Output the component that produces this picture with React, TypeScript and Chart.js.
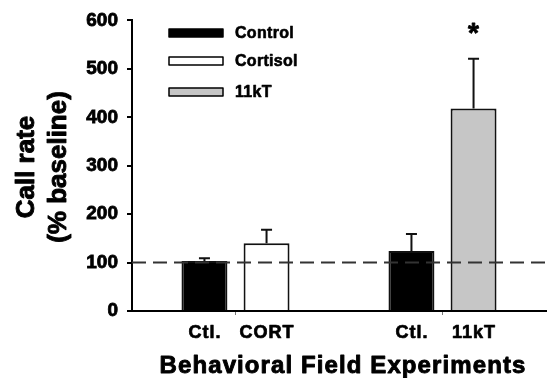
import React, { useEffect, useRef } from "react";
import { Chart, registerables } from "chart.js";

Chart.register(...registerables);

// ---- data ----
const categories = ["Cortisol experiment", "11kT experiment"];
const seriesNames = ["Control", "Cortisol", "11kT"];
const controlValues = [103, 124];
const controlErrors = [6, 35];
const cortisolValues: (number | null)[] = [140, null];
const cortisolErrors: (number | null)[] = [28, null];
const kTValues: (number | null)[] = [null, 418];
const kTErrors: (number | null)[] = [null, 103];
const controlLabels = ["Ctl.", "Ctl."];
const cortisolLabels = ["CORT", ""];
const kTLabels = ["", "11kT"];
const kTMarks = ["", "*"];
const yTicks = [0, 100, 200, 300, 400, 500, 600];
const baselineValue = 100;
const yTitleLines = ["Call rate", "(% baseline)"];
const xTitle = "Behavioral Field Experiments";

const FONT = '"Liberation Sans", Arial, Helvetica, sans-serif';

const errorsBySeries = [controlErrors, cortisolErrors, kTErrors];
const labelsBySeries = [controlLabels, cortisolLabels, kTLabels];
const marksBySeries = [[], [], kTMarks];
const fills = ["#000000", "#ffffff", "#c6c6c6"];

function heavyText(ctx: CanvasRenderingContext2D, t: string, x: number, y: number, w = 0.8) {
  ctx.fillStyle = "#000";
  ctx.strokeStyle = "#000";
  ctx.lineWidth = w;
  ctx.lineJoin = "round";
  ctx.fillText(t, x, y);
  ctx.strokeText(t, x, y);
}

const overlayPlugin = {
  id: "overlay",
  afterDatasetsDraw(chart: any) {
    const ctx = chart.ctx as CanvasRenderingContext2D;
    const y = chart.scales.y;
    const area = chart.chartArea;
    ctx.save();

    // dashed baseline
    const by = y.getPixelForValue(baselineValue);
    ctx.strokeStyle = "#333";
    ctx.lineWidth = 2;
    ctx.setLineDash([14, 7]);
    ctx.beginPath();
    ctx.moveTo(area.left, by);
    ctx.lineTo(area.right, by);
    ctx.stroke();
    ctx.setLineDash([]);

    // error bars, bar labels and marks
    chart.data.datasets.forEach((ds: any, i: number) => {
      const meta = chart.getDatasetMeta(i);
      meta.data.forEach((bar: any, j: number) => {
        const v = ds.data[j];
        if (v === null || v === undefined) return;
        const e = errorsBySeries[i][j];
        if (e !== null && e !== undefined) {
          const top = y.getPixelForValue(v + e);
          ctx.strokeStyle = "#111";
          ctx.lineWidth = 2;
          ctx.beginPath();
          ctx.moveTo(bar.x, bar.y);
          ctx.lineTo(bar.x, top);
          ctx.moveTo(bar.x - 5.5, top);
          ctx.lineTo(bar.x + 5.5, top);
          ctx.stroke();
          const mark = (marksBySeries[i] as string[])[j];
          if (mark) {
            ctx.font = `bold 28px ${FONT}`;
            ctx.textAlign = "center";
            ctx.textBaseline = "alphabetic";
            heavyText(ctx, mark, bar.x, top - 17, 0.8);
          }
        }
        const lab = labelsBySeries[i][j];
        if (lab) {
          ctx.font = `bold 18px ${FONT}`;
          (ctx as any).letterSpacing = "1px";
          ctx.textAlign = "center";
          ctx.textBaseline = "alphabetic";
          heavyText(ctx, lab, bar.x + 0.5, 338, 0.7);
          (ctx as any).letterSpacing = "0px";
        }
      });
    });

    // legend
    const legendY = [33, 61, 92];
    seriesNames.forEach((name, i) => {
      const cy = legendY[i];
      ctx.fillStyle = fills[i];
      ctx.fillRect(169, cy - 4, 54, 8);
      ctx.strokeStyle = "#000";
      ctx.lineWidth = 1.5;
      ctx.strokeRect(169, cy - 4, 54, 8);
      ctx.font = `bold 16px ${FONT}`;
      (ctx as any).letterSpacing = "0.3px";
      ctx.textAlign = "left";
      ctx.textBaseline = "middle";
      heavyText(ctx, name, 235, cy + 0.5, 0.6);
      (ctx as any).letterSpacing = "0px";
    });

    // x title
    ctx.font = `bold 24px ${FONT}`;
    (ctx as any).letterSpacing = "1.1px";
    ctx.textAlign = "center";
    ctx.textBaseline = "alphabetic";
    heavyText(ctx, xTitle, 343, 373, 0.9);
    (ctx as any).letterSpacing = "0px";

    // y title
    ctx.font = `bold 26px ${FONT}`;
    ctx.textAlign = "center";
    ctx.textBaseline = "alphabetic";
    const baseXs = [34, 66];
    yTitleLines.forEach((t, k) => {
      ctx.save();
      ctx.translate(baseXs[k], 167);
      ctx.rotate(-Math.PI / 2);
      heavyText(ctx, t, 0, 0, 0.9);
      ctx.restore();
    });

    ctx.restore();
  },
};

export default function App() {
  const ref = useRef<HTMLCanvasElement | null>(null);
  useEffect(() => {
    if (!ref.current) return;
    const chart = new Chart(ref.current, {
      type: "bar",
      data: {
        labels: categories,
        datasets: seriesNames.map((name, i) => ({
          label: name,
          data: [controlValues, cortisolValues, kTValues][i] as any,
          backgroundColor: fills[i],
          borderColor: "#111",
          borderWidth: 2,
          borderSkipped: "bottom",
          barPercentage: 0.74,
          categoryPercentage: 0.6,
        })),
      },
      options: {
        animation: false,
        responsive: false,
        devicePixelRatio: 1,
        skipNull: true,
        layout: { padding: { top: 20, right: 1, left: 0, bottom: 0 } },
        plugins: { legend: { display: false }, tooltip: { enabled: false } },
        scales: {
          x: {
            type: "category",
            offset: true,
            border: { display: true, color: "#000", width: 2 },
            grid: {
              display: true,
              drawOnChartArea: false,
              drawTicks: true,
              tickLength: 4,
              offset: false,
              color: "#777",
              lineWidth: 1,
            },
            ticks: { display: false },
            afterFit: (s: any) => {
              s.height = 67;
            },
          },
          y: {
            min: 0,
            max: 600,
            border: { display: true, color: "#000", width: 2 },
            grid: {
              display: true,
              drawOnChartArea: false,
              drawTicks: true,
              tickLength: 5,
              color: "#000",
              lineWidth: 2,
            },
            ticks: {
              color: "#000",
              padding: 9,
              textStrokeColor: "#000",
              textStrokeWidth: 0.8,
              font: { family: FONT, size: 19, weight: "bold" },
            },
            afterBuildTicks: (s: any) => {
              s.ticks = yTicks.map((v) => ({ value: v }));
            },
            afterFit: (s: any) => {
              s.width = 132;
            },
          },
        },
      } as any,
      plugins: [overlayPlugin],
    });
    return () => chart.destroy();
  }, []);
  return (
    <div style={{ position: "absolute", left: 0, top: 0, width: 547, height: 378, background: "#fff" }}>
      <canvas ref={ref} width={547} height={378} style={{ display: "block" }} />
    </div>
  );
}
